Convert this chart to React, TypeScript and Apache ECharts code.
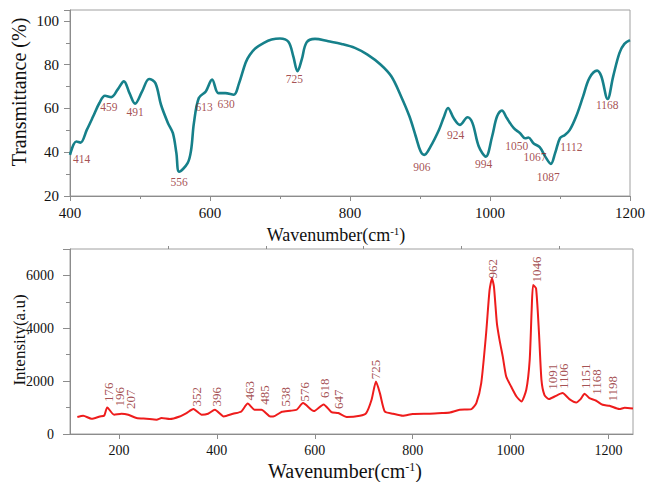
import React, { useEffect, useRef } from "react";
import * as echarts from "echarts";

// FTIR transmittance spectrum
const ftirWavenumber = [
  400, 409, 415, 424, 433, 442, 450, 459, 468, 477, 485, 493, 503, 513, 522, 530, 540, 547, 552, 556,
  568, 573, 577, 584, 594, 603, 612, 622, 634, 641, 651, 657, 665, 677, 688, 700, 712, 719, 725, 731,
  738, 750, 769, 788, 807, 825, 844, 859, 873, 885, 894, 901, 906, 915, 927, 934, 940, 948, 957, 968,
  975, 984, 994, 1003, 1010, 1017, 1024, 1034, 1043, 1050, 1055, 1062, 1071, 1079, 1087, 1093, 1100,
  1107, 1114, 1123, 1133, 1142, 1153, 1159, 1168, 1176, 1185, 1192, 1200,
];
const ftirTransmittance = [
  38.8, 44.9, 44.4, 50.2, 56.3, 62.5, 65.8, 65.2, 68.6, 72.4, 67.0, 62.2, 67.8, 73.5, 71.6, 61.7, 53.3, 48.7, 39.6, 31.1,
  35.0, 41.0, 53.3, 64.8, 67.8, 73.2, 67.0, 67.0, 66.3, 71.0, 81.0, 84.5, 87.5, 90.0, 91.5, 92.0, 90.5, 83.8, 77.0, 82.3,
  90.2, 91.8, 90.7, 89.5, 87.7, 84.6, 80.0, 74.7, 65.5, 56.3, 47.2, 40.3, 38.8, 42.6, 50.2, 56.0, 60.2, 55.6, 52.5, 56.0,
  53.3, 42.6, 38.0, 47.2, 56.3, 59.1, 55.6, 51.0, 48.7, 46.4, 46.7, 44.1, 42.3, 38.0, 34.7, 39.6, 46.4,
  47.9, 50.2, 56.3, 65.5, 73.9, 77.3, 74.7, 64.3, 74.7, 85.4, 89.5, 91.2,
];
const ftirPeaks = ["414", "459", "491", "556", "613", "630", "725", "906", "924", "994", "1050", "1067", "1087", "1112", "1168"];
const ftirLabelX = [416.6, 455.7, 493.2, 556, 591.5, 623, 720.6, 902.6, 950.8, 991, 1038.3, 1064.4, 1083.3, 1116.3, 1167.4];
const ftirLabelY = [36.8, 60.9, 58.2, 26.6, 60.9, 62.0, 73.6, 33.4, 47.9, 34.5, 43.0, 38.0, 28.8, 42.6, 61.7];

// Raman spectrum
const ramanShift = [
  115, 127, 144, 161, 170, 176, 190, 205, 219, 236, 256, 277, 287, 304, 324, 338, 352, 369, 382, 396,
  414, 433, 450, 463, 477, 491, 507, 515, 533, 550, 563, 576, 598, 618, 634, 648, 665, 692, 705, 716,
  725, 733, 743, 760, 780, 800, 835, 860, 876, 896, 920, 930, 940, 950, 957, 962, 966, 972, 978, 984,
  991, 1001, 1012, 1022, 1032, 1039, 1043, 1046, 1052, 1058, 1063, 1069, 1078, 1090, 1106, 1120, 1134,
  1143, 1151, 1161, 1174, 1188, 1202, 1222, 1233, 1250,
];
const ramanIntensity = [
  642, 690, 577, 664, 700, 1004, 728, 766, 728, 604, 577, 540, 604, 566, 664, 792, 943, 728, 766, 917,
  664, 766, 853, 1150, 917, 917, 680, 664, 840, 879, 917, 1170, 866, 1120, 830, 792, 642, 690, 792, 1294,
  1985, 1547, 853, 766, 690, 755, 766, 792, 815, 917, 943, 1170, 1925, 3812, 5446, 5887, 5570, 4189, 3495, 2929,
  2174, 1796, 1419, 1230, 1672, 2804, 4691, 5635, 5510, 3812, 2049, 1483, 1321, 1419, 1547, 1321, 1193,
  1321, 1521, 1359, 1268, 1106, 1068, 943, 993, 966,
];
const ramanPeaks = ["176", "196", "207", "352", "396", "463", "485", "538", "576", "618", "647", "725", "962", "1046", "1091", "1106", "1151", "1168", "1198"];
const ramanLabelX = [178, 200.6, 224.5, 358.5, 399.4, 466, 498, 541, 579.6, 620.4, 647.6, 724.5, 964, 1053.7, 1086, 1108.8, 1152.4, 1175, 1209];
const ramanLabelY = [1208, 1042, 943, 1042, 1042, 1268, 1106, 1042, 1230, 1359, 943, 2076, 5887, 5736, 1672, 1698, 1698, 1483, 1230];

const xMajorTicks = [200, 400, 600, 800, 1000, 1200];
const xMinorTicks = [300, 500, 700, 900, 1100];

const FONT = "'Liberation Serif', 'Times New Roman', serif";
const AXIS_COLOR = "#8c8c8c";
const TEXT_COLOR = "#111111";
const LABEL_RED = "#8e2326";
const plain = (v: number) => String(v);

const zip = (xs: number[], ys: number[]) => xs.map((x, i) => [x, ys[i]]);

// axis title drawn as free text so it can sit exactly where wanted
const axisTitle = (text: string, x: number, y: number, size: number, vertical = false) => ({
  type: "text",
  x,
  y,
  rotation: vertical ? Math.PI / 2 : 0,
  silent: true,
  style: {
    text,
    fontFamily: FONT,
    fontSize: size,
    fill: TEXT_COLOR,
    align: "center",
    verticalAlign: "middle",
    rich: {
      sup: { fontFamily: FONT, fontSize: Math.round(size * 0.62), fill: TEXT_COLOR, padding: [0, 0, Math.round(size * 0.45), 0] },
    },
  },
});

export default function App() {
  const ref = useRef<HTMLDivElement>(null);

  useEffect(() => {
    if (!ref.current) return;
    const chart = echarts.init(ref.current, undefined, { renderer: "svg" });

    const axisLine = { show: true, lineStyle: { color: AXIS_COLOR, width: 1 } };

    chart.setOption({
      animation: false,
      backgroundColor: "#ffffff",
      textStyle: { fontFamily: FONT },
      grid: [
        { left: 70, top: 10, width: 564, height: 186, show: true, borderColor: "#a0a0a0", borderWidth: 1, backgroundColor: "transparent" },
        { left: 70, top: 249, width: 563, height: 185, show: true, borderColor: "#a0a0a0", borderWidth: 1, backgroundColor: "transparent" },
      ],
      graphic: [
        axisTitle("Wavenumber(cm{sup|-1})", 336, 235, 18),
        axisTitle("Wavenumber(cm{sup|-1})", 345, 471, 20),
        axisTitle("Transmittance (%)", 19, 92, 20, true),
        axisTitle("Intensity(a.u)", 19, 340, 17, true),
      ],
      xAxis: [
        {
          type: "value",
          gridIndex: 0,
          min: 400,
          max: 1200,
          interval: 200,
          axisLine,
          axisTick: { show: true, inside: false, length: 5, lineStyle: { color: AXIS_COLOR } },
          minorTick: { show: true, splitNumber: 2, length: 3, lineStyle: { color: AXIS_COLOR } },
          splitLine: { show: false },
          axisLabel: { fontFamily: FONT, fontSize: 15, color: TEXT_COLOR, margin: 9, formatter: plain },
        },
        {
          type: "value",
          gridIndex: 1,
          min: 100,
          max: 1250,
          axisLine,
          axisTick: { show: true, length: 5, customValues: xMajorTicks, lineStyle: { color: AXIS_COLOR } },
          splitLine: { show: false },
          axisLabel: { fontFamily: FONT, fontSize: 14, color: TEXT_COLOR, margin: 9, customValues: xMajorTicks, formatter: plain },
        },
        {
          type: "value",
          gridIndex: 1,
          min: 100,
          max: 1250,
          axisLine: { show: false },
          axisTick: { show: true, length: 3, customValues: xMinorTicks, lineStyle: { color: AXIS_COLOR } },
          axisLabel: { show: false },
          splitLine: { show: false },
        },
      ],
      yAxis: [
        {
          type: "value",
          gridIndex: 0,
          min: 20,
          max: 105,
          interval: 20,
          axisLine,
          axisTick: { show: true, length: 6, lineStyle: { color: AXIS_COLOR } },
          minorTick: { show: true, splitNumber: 2, length: 4, lineStyle: { color: AXIS_COLOR } },
          splitLine: { show: false },
          axisLabel: { fontFamily: FONT, fontSize: 15, color: TEXT_COLOR, margin: 11, showMaxLabel: false, formatter: plain },
        },
        {
          type: "value",
          gridIndex: 1,
          min: 0,
          max: 7000,
          interval: 2000,
          axisLine,
          axisTick: { show: true, length: 7, lineStyle: { color: AXIS_COLOR } },
          minorTick: { show: true, splitNumber: 2, length: 4, lineStyle: { color: AXIS_COLOR } },
          splitLine: { show: false },
          axisLabel: { fontFamily: FONT, fontSize: 14, color: TEXT_COLOR, margin: 16, showMaxLabel: false, formatter: plain },
        },
      ],
      series: [
        {
          type: "line",
          xAxisIndex: 0,
          yAxisIndex: 0,
          data: zip(ftirWavenumber, ftirTransmittance),
          smooth: 0.35,
          showSymbol: false,
          lineStyle: { color: "#16808a", width: 2.6 },
          z: 3,
        },
        {
          type: "scatter",
          xAxisIndex: 0,
          yAxisIndex: 0,
          symbolSize: 0,
          data: ftirPeaks.map((p, i) => ({ name: p, value: [ftirLabelX[i], ftirLabelY[i]] })),
          label: {
            show: true,
            position: [0, 0],
            align: "center",
            verticalAlign: "middle",
            formatter: (p: any) => p.name,
            fontFamily: FONT,
            fontSize: 11.5,
            color: LABEL_RED,
          },
          silent: true,
          z: 4,
        },
        {
          type: "line",
          xAxisIndex: 1,
          yAxisIndex: 1,
          data: zip(ramanShift, ramanIntensity),
          smooth: 0.2,
          showSymbol: false,
          lineStyle: { color: "#ee1c1c", width: 2 },
          z: 3,
        },
        {
          type: "scatter",
          xAxisIndex: 1,
          yAxisIndex: 1,
          symbolSize: 0,
          data: ramanPeaks.map((p, i) => ({ name: p, value: [ramanLabelX[i], ramanLabelY[i]] })),
          label: {
            show: true,
            position: [0, 0],
            rotate: 90,
            align: "left",
            verticalAlign: "middle",
            formatter: (p: any) => p.name,
            fontFamily: FONT,
            fontSize: 13,
            color: LABEL_RED,
          },
          silent: true,
          z: 4,
        },
      ],
    });

    return () => chart.dispose();
  }, []);

  return (
    <div
      ref={ref}
      style={{ position: "absolute", left: 0, top: 0, width: 648, height: 482, background: "#fff" }}
    />
  );
}
